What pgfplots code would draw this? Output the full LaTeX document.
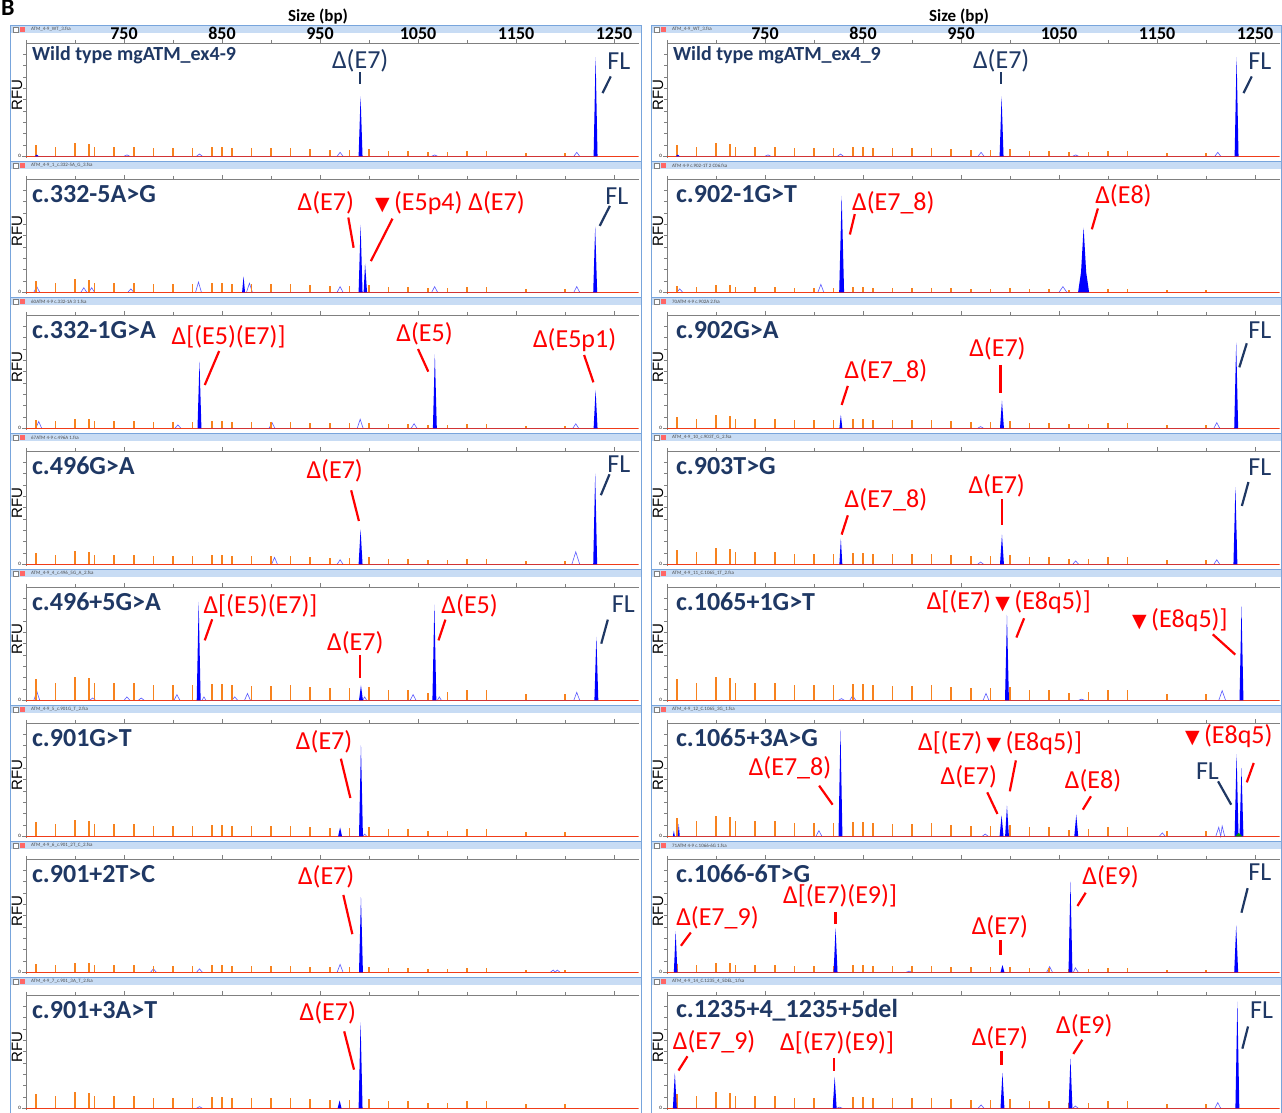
\documentclass[border=0pt]{standalone}
\usepackage{fontspec}
\setmainfont{Carlito}
\newfontfamily\dejavu{DejaVu Sans}
\newfontfamily\arial{Liberation Sans}
\usepackage{pgfplots}
\pgfplotsset{compat=1.18}
\usepackage{pgfplotstable}
\definecolor{navy}{RGB}{31,56,100}
\definecolor{lorange}{RGB}{247,130,30}
\definecolor{hdr}{RGB}{200,220,244}
\definecolor{frm}{RGB}{120,165,220}
\definecolor{basec}{RGB}{240,60,25}
\definecolor{olb}{RGB}{90,90,255}

\newcommand\ann{\fontsize{26}{28}\selectfont}
\newcommand\lab{\fontsize{26}{28}\selectfont\bfseries}
\newcommand\tri{{\dejavu\fontsize{19}{19}\selectfont ▼}}

\pgfplotstableread{
x a b c d e f
660 5.7 7.7 10.3 12.9 18.5 16.0
680 4.7 6.5 8.6 10.8 15.5 13.3
700 6.3 8.6 11.5 14.4 20.7 17.8
714 6.0 8.2 10.9 13.6 19.6 16.9
720 4.7 6.5 8.6 10.8 15.5 13.3
740 4.7 6.5 8.6 10.8 15.5 13.3
760 4.7 6.5 8.6 10.8 15.5 13.3
780 4.1 5.6 7.4 9.3 13.3 11.5
800 4.1 5.6 7.4 9.3 13.3 11.5
820 4.1 5.6 7.4 9.3 13.3 11.5
840 4.4 6.0 8.0 10.0 14.4 12.4
850 4.4 6.0 8.0 10.0 14.4 12.4
860 4.1 5.6 7.4 9.3 13.3 11.5
880 3.9 5.3 7.0 8.8 12.6 10.9
900 3.9 5.3 7.0 8.8 12.6 10.9
920 4.1 5.6 7.4 9.3 13.3 11.5
940 3.6 4.9 6.5 8.1 11.7 10.1
960 3.2 4.4 5.9 7.4 10.6 9.1
980 3.2 4.4 5.9 7.4 10.6 9.1
1000 3.6 4.9 6.5 8.1 11.7 10.1
1020 2.8 3.8 5.0 6.3 9.0 7.8
1040 2.8 3.8 5.0 6.3 9.0 7.8
1060 1.9 2.6 3.5 4.4 6.3 5.4
1080 2.2 3.0 4.0 5.0 7.2 6.2
1100 2.8 3.8 5.0 6.3 9.0 7.8
1120 2.8 3.8 5.0 6.3 9.0 7.8
1160 1.8 2.4 3.2 4.0 5.8 5.0
1200 1.8 2.4 3.2 4.0 5.8 5.0
}\ladder

\tikzset{
  rann/.style={red, font=\ann, inner sep=0pt},
  flab/.style={navy, font=\ann, inner sep=0pt},
  rln/.style={red, line width=2.2pt},
  nln/.style={navy, line width=2.2pt},
  olpk/.style={draw=olb, line width=0.6pt},
  fpk/.style={draw=none, fill=blue},
}

\pgfplotsset{
  panel/.style={
    scale only axis, width=612.5pt, height=115pt,
    xmin=650, xmax=1275, ymin=-1.5, ymax=100,
    axis x line*=top, axis y line*=left,
    axis line style={gray, line width=0.6pt},
    clip mode=individual,
    xtick={750,850,...,1250},
    minor xtick={650,700,800,900,1000,1100,1200},
    xticklabels={},
    ytick={0}, minor ytick={10,20,...,90},
    tick style={gray, line width=0.5pt},
    major tick length=4pt, minor tick length=3pt,
    tick align=outside,
    yticklabel style={font=\fontsize{5}{5}\selectfont, inner sep=1pt},
    /pgf/number format/assume math mode=true,
    /pgf/number format/1000 sep={},
  },
  toprow/.style={
    xticklabels={750,850,950,1050,1150,1250},
    xticklabel style={font=\fontsize{18}{18}\selectfont\bfseries, yshift=-4pt},
  },
}

% #1 x, #2 y, #3 options, #4 ladder column, #5 outline peaks, #6 filled peaks, #7 annotations
\newcommand\panel[7]{%
\begin{axis}[panel, at={(#1pt,#2pt)}, #3]
\addplot[olpk, unbounded coords=jump] coordinates {#5};
\addplot[basec, line width=0.9pt] coordinates {(650,0) (1275,0)};
\addplot[ycomb, draw=lorange, line width=1.6pt] table[x=x, y=#4] {\ladder};
\addplot[fpk] coordinates {#6};
#7
\end{axis}}

\newcommand\hdrtext[3]{\node[anchor=west, inner sep=0pt, font=\fontsize{5}{5}\selectfont, text=black!70] at (#1,#2) {#3};}

\begin{document}
\begin{tikzpicture}[x=1pt,y=1pt]
\useasboundingbox (0,0) rectangle (1282,1113);
\fill[white] (0,0) rectangle (1282,1113);
\foreach \t in {1087,951,815,679,543,407,271,135} {
  \fill[hdr] (10,\t-7) rectangle (641,\t);
  \fill[hdr] (651,\t-7) rectangle (1281,\t);
  \draw[frm, line width=1pt] (10,\t-136) rectangle (641,\t);
  \draw[frm, line width=1pt] (651,\t-136) rectangle (1281,\t);
  \draw[gray, line width=0.4pt, fill=white] (13,\t-6) rectangle (18,\t-1.5);
  \fill[red!60] (20,\t-6) rectangle (25,\t-1.5);
  \draw[gray, line width=0.4pt, fill=white] (654,\t-6) rectangle (659,\t-1.5);
  \fill[red!60] (661,\t-6) rectangle (666,\t-1.5);
  \node[rotate=90, font=\arial\fontsize{15}{15}\selectfont] at (17,\t-69) {RFU};
  \node[rotate=90, font=\arial\fontsize{15}{15}\selectfont] at (658,\t-69) {RFU};
}
\hdrtext{31}{1083.5}{ATM\_4-9\_WT\_3.fsa}
\hdrtext{672}{1083.5}{ATM\_4-9\_WT\_3.fsa}
\hdrtext{31}{947.5}{ATM\_4-9\_1\_c.332-5A\_G\_3.fsa}
\hdrtext{672}{947.5}{ATM 4-9 c.902-1T 2 C06.fsa}
\hdrtext{31}{811.5}{60ATM 4-9 c.332-1A 3 1.fsa}
\hdrtext{672}{811.5}{70ATM 4-9 c.902A 2.fsa}
\hdrtext{31}{675.5}{67ATM 4-9 c.496A 1.fsa}
\hdrtext{672}{675.5}{ATM\_4-9\_10\_c.903T\_G\_2.fsa}
\hdrtext{31}{539.5}{ATM\_4-9\_4\_c.496\_5G\_A\_2.fsa}
\hdrtext{672}{539.5}{ATM\_4-9\_11\_C.1065\_1T\_2.fsa}
\hdrtext{31}{403.5}{ATM\_4-9\_5\_c.901G\_T\_2.fsa}
\hdrtext{672}{403.5}{ATM\_4-9\_12\_C.1065\_3G\_1.fsa}
\hdrtext{31}{267.5}{ATM\_4-9\_6\_c.901\_2T\_C\_2.fsa}
\hdrtext{672}{267.5}{71ATM 4-9 c.1066-6G 1.fsa}
\hdrtext{31}{131.5}{ATM\_4-9\_7\_c.901\_3A\_T\_2.fsa}
\hdrtext{672}{131.5}{ATM\_4-9\_14\_C.1235\_4\_5DEL\_1.fsa}

\node[font=\fontsize{17}{17}\selectfont\bfseries] at (318,1096) {Size (bp)};
\node[font=\fontsize{17}{17}\selectfont\bfseries] at (959,1096) {Size (bp)};
\node[anchor=base west, inner sep=0pt, font=\fontsize{24}{24}\selectfont\bfseries] at (1,1097) {B};

% ---------- Row 1 ----------
\panel{26}{955}{toprow}{c}
{(750,0)(753,1.2)(756,0) (0,nan) (824,0)(827,2)(830,0) (0,nan) (967.5,0)(970.5,3.5)(973.5,0) (0,nan) (1064,0)(1067,1.2)(1070,0) (0,nan) (1209,0)(1212,3.5)(1215,0)}
{(659,0)(661,1.5)(663,0) (989.4,0)(991.4,52.8)(993.4,0) (1229.2,0)(1231.2,87.6)(1233.2,0)}
{\node[anchor=west, navy, font=\fontsize{20}{22}\selectfont\bfseries, inner sep=0pt] at (axis cs:656,89.4) {Wild type mgATM\_ex4-9};
 \node[flab] at (axis cs:991,84) {Δ(E7)};
 \draw[nln] (axis cs:991,74) -- (axis cs:991,64);
 \node[flab] at (axis cs:1255,84) {FL};
 \draw[nln] (axis cs:1238.3,55.8) -- (axis cs:1246.7,70.5);}

\panel{667}{955}{toprow}{c}
{(750,0)(753,1.2)(756,0) (0,nan) (824,0)(827,2)(830,0) (0,nan) (967.5,0)(970.5,3.5)(973.5,0) (0,nan) (1064,0)(1067,1.2)(1070,0) (0,nan) (1209,0)(1212,3.5)(1215,0)}
{(659,0)(661,1.5)(663,0) (989.4,0)(991.4,52.8)(993.4,0) (1229.2,0)(1231.2,87.6)(1233.2,0)}
{\node[anchor=west, navy, font=\fontsize{20}{22}\selectfont\bfseries, inner sep=0pt] at (axis cs:656,89.4) {Wild type mgATM\_ex4\_9};
 \node[flab] at (axis cs:991,84) {Δ(E7)};
 \draw[nln] (axis cs:991,74) -- (axis cs:991,64);
 \node[flab] at (axis cs:1255,84) {FL};
 \draw[nln] (axis cs:1238.3,55.8) -- (axis cs:1246.7,70.5);}

% ---------- Row 2 ----------
\panel{26}{819}{}{c}
{(658,0)(661,5)(664,0) (0,nan) (706,0)(709,4)(712,0) (0,nan) (714,0)(717,4)(720,0) (0,nan) (754,0)(757,3)(760,0) (0,nan) (823,0)(826,9)(829,0) (0,nan) (875,0)(878,8)(881,0) (0,nan) (967.5,0)(970.5,5)(973.5,0) (0,nan) (1064,0)(1067,5)(1070,0) (0,nan) (1209,0)(1212,5)(1215,0)}
{(870.5,0)(872,14)(873.5,0) (989.4,0)(991.4,59.5)(993.4,0) (994.5,0)(996,25.4)(998,0) (1228.8,0)(1230.8,58)(1232.8,0)}
{\node[anchor=west, navy, font=\lab, inner sep=0pt] at (axis cs:656,86.8) {c.332-5A>G};
 \node[rann] at (axis cs:955.9,79) {Δ(E7)};
 \draw[rln] (axis cs:978.9,66) -- (axis cs:984.3,39.3);
 \node[rann, anchor=west] at (axis cs:1006,79) {\tri\,(E5p4) Δ(E7)};
 \draw[rln] (axis cs:1024,65) -- (axis cs:1001.9,27.5);
 \node[flab] at (axis cs:1252.9,85) {FL};
 \draw[nln] (axis cs:1235.4,58.6) -- (axis cs:1245.8,76.3);}

\panel{667}{819}{}{a}
{(660,0)(663,3)(666,0) (0,nan) (804,0)(807,7)(810,0) (0,nan) (1050,0)(1054,5)(1058,0)}
{(825.7,0)(828.2,85.2)(830.7,0) (1069.5,0)(1072.5,18)(1075.1,57.1)(1077.7,18)(1080.7,0)}
{\node[anchor=west, navy, font=\lab, inner sep=0pt] at (axis cs:659,86.8) {c.902-1G>T};
 \node[rann, anchor=west] at (axis cs:838.7,79) {Δ(E7\_8)};
 \draw[rln] (axis cs:836.6,51) -- (axis cs:841.6,69);
 \node[rann, anchor=west] at (axis cs:1086.8,85) {Δ(E8)};
 \draw[rln] (axis cs:1083.5,55.6) -- (axis cs:1089.7,74);}

% ---------- Row 3 ----------
\panel{26}{683}{}{b}
{(660,0)(663,6)(666,0) (0,nan) (802,0)(805,3)(808,0) (0,nan) (898,0)(901,5)(904,0) (0,nan) (988,0)(991,8)(994,0) (0,nan) (1043,0)(1046,4)(1049,0) (0,nan) (1208,0)(1211,4)(1214,0)}
{(825,0)(827,58.8)(829,0) (1065.2,0)(1067.2,65.3)(1069.2,0) (1229.2,0)(1231.2,33.8)(1233.2,0)}
{\node[anchor=west, navy, font=\lab, inner sep=0pt] at (axis cs:656,86.8) {c.332-1G>A};
 \node[rann] at (axis cs:856.7,80.9) {Δ[(E5)(E7)]};
 \draw[rln] (axis cs:832.4,38.2) -- (axis cs:847.1,68.2);
 \node[rann] at (axis cs:1056.7,83.8) {Δ(E5)};
 \draw[rln] (axis cs:1050,70) -- (axis cs:1060.5,50);
 \node[rann] at (axis cs:1209.8,78) {Δ(E5p1)};
 \draw[rln] (axis cs:1219.5,64.7) -- (axis cs:1229,40.6);}

\panel{667}{683}{}{c}
{(967,0)(970,1.5)(973,0) (0,nan) (1208,0)(1211,5)(1214,0)}
{(825.9,0)(827.4,11.8)(828.9,0) (989.8,0)(991.8,24.4)(993.8,0) (1228.8,0)(1230.8,75.6)(1232.8,0)}
{\node[anchor=west, navy, font=\lab, inner sep=0pt] at (axis cs:659,86.8) {c.902G>A};
 \node[rann] at (axis cs:873.4,51) {Δ(E7\_8)};
 \draw[rln] (axis cs:828.2,20.6) -- (axis cs:834.5,37.4);
 \node[rann] at (axis cs:987.2,70.6) {Δ(E7)};
 \draw[rln] (axis cs:990.2,55.9) -- (axis cs:990.2,31.5);
 \node[flab] at (axis cs:1255,86.8) {FL};
 \draw[nln] (axis cs:1234,53.8) -- (axis cs:1241.6,75);}

% ---------- Row 4 ----------
\panel{26}{547}{}{c}
{(900.6,0)(903.6,6)(906.6,0) (0,nan) (967.5,0)(970.5,4)(973.5,0) (0,nan) (1207,0)(1211,11)(1215,0)}
{(989.4,0)(991.4,30.9)(993.4,0) (1228.8,0)(1230.8,80)(1232.8,0)}
{\node[anchor=west, navy, font=\lab, inner sep=0pt] at (axis cs:656,86.8) {c.496G>A};
 \node[rann] at (axis cs:965,82.4) {Δ(E7)};
 \draw[rln] (axis cs:981.8,65.3) -- (axis cs:989.7,38.2);
 \node[flab] at (axis cs:1255,88) {FL};
 \draw[nln] (axis cs:1236.6,61) -- (axis cs:1245.4,79.4);}

\panel{667}{547}{}{d}
{(967,0)(970,2)(973,0) (0,nan) (1064,0)(1067,3)(1070,0) (0,nan) (1208,0)(1211,4)(1214,0)}
{(825.9,0)(827.4,22.6)(828.9,0) (989.8,0)(991.8,26.2)(993.8,0) (1228,0)(1230,68.2)(1232,0)}
{\node[anchor=west, navy, font=\lab, inner sep=0pt] at (axis cs:659,86.8) {c.903T>G};
 \node[rann] at (axis cs:873.4,56.5) {Δ(E7\_8)};
 \draw[rln] (axis cs:828.2,26.2) -- (axis cs:834.5,43.2);
 \node[rann] at (axis cs:986.4,69.7) {Δ(E7)};
 \draw[rln] (axis cs:991.8,57.4) -- (axis cs:991.8,35);
 \node[flab] at (axis cs:1255,85.9) {FL};
 \draw[nln] (axis cs:1236.6,51.5) -- (axis cs:1243.3,72.6);}

% ---------- Row 5 ----------
\panel{26}{411}{}{e}
{(658,0)(661,8)(664,0) (0,nan) (715,0)(718,2)(721,0) (0,nan) (750,0)(753,3)(756,0) (0,nan) (764.6,0)(767.6,2)(770.6,0) (0,nan) (801,0)(804,5)(807,0) (0,nan) (829.6,0)(831.6,3)(833.6,0) (0,nan) (860,0)(863,3)(866,0) (0,nan) (873,0)(876,6)(879,0) (0,nan) (993.6,0)(995.6,3)(997.6,0) (0,nan) (1042,0)(1045,5)(1048,0) (0,nan) (1069.8,0)(1071.8,3)(1073.8,0) (0,nan) (1209,0)(1212,7)(1215,0)}
{(824.2,0)(826.2,86.8)(828.2,0) (989.8,0)(991.8,13.2)(993.8,0) (1064.7,0)(1066.7,84.4)(1068.7,0) (1230,0)(1232,55.9)(1234,0)}
{\node[anchor=west, navy, font=\lab, inner sep=0pt] at (axis cs:656,86.8) {c.496+5G>A};
 \node[rann] at (axis cs:889.3,83.8) {Δ[(E5)(E7)]};
 \draw[rln] (axis cs:832.4,52.9) -- (axis cs:840,71.5);
 \node[rann] at (axis cs:1102.7,83.8) {Δ(E5)};
 \draw[rln] (axis cs:1070.9,52.9) -- (axis cs:1078,71.2);
 \node[rann] at (axis cs:986,50.9) {Δ(E7)};
 \draw[rln] (axis cs:990.6,39.7) -- (axis cs:990.6,19.7);
 \node[flab] at (axis cs:1259.6,84.7) {FL};
 \draw[nln] (axis cs:1237,50) -- (axis cs:1243.7,71.2);}

\panel{667}{411}{}{e}
{(825,0)(828,1.5)(831,0) (0,nan) (836.5,0)(839.5,4)(842.5,0) (0,nan) (972.5,0)(975.5,6)(978.5,0) (0,nan) (1070,0)(1073,1)(1076,0) (0,nan) (1213,0)(1216.5,8.5)(1220,0)}
{(994.9,0)(996.9,75.3)(998.9,0) (1234.2,0)(1236.2,83)(1238.2,0)}
{\node[anchor=west, navy, font=\lab, inner sep=0pt] at (axis cs:659,86.8) {c.1065+1G>T};
 \node[rann, anchor=west] at (axis cs:914.9,86.6) {Δ[(E7)\,\tri\,(E8q5)]};
 \draw[rln] (axis cs:1014.4,72.4) -- (axis cs:1006.5,55.4);
 \node[rann, anchor=west] at (axis cs:1124.5,71) {\tri\,(E8q5)]};
 \draw[rln] (axis cs:1206.9,58.2) -- (axis cs:1229.9,40.3);}

% ---------- Row 6 ----------
\panel{26}{275}{}{d}
{(993.6,0)(995.6,2)(997.6,0)}
{(968.5,0)(970.5,7.9)(972.5,0) (989.8,0)(991.8,80.3)(993.8,0)}
{\node[anchor=west, navy, font=\lab, inner sep=0pt] at (axis cs:656,86.8) {c.901G>T};
 \node[rann] at (axis cs:954.2,83.8) {Δ(E7)};
 \draw[rln] (axis cs:971.3,68.5) -- (axis cs:981,33.8);}

\panel{667}{275}{}{f}
{(802,0)(805,5)(808,0) (0,nan) (971.7,0)(974.7,2)(977.7,0) (0,nan) (1152.4,0)(1155.4,3)(1158.4,0) (0,nan) (1210,0)(1213,8)(1215,0)(1216.5,9)(1219,0)}
{(656,0)(657,5)(658,0) (661,0)(662,11)(663,0) (825,0)(827,94.1)(829,0) (989.4,0)(991.4,18.5)(993.4,0) (995,0)(996.9,27)(998.9,0) (1065.6,0)(1067.6,19.1)(1069.6,0) (1229.2,0)(1231.2,72.6)(1233.2,0) (1234.2,0)(1236.2,60.3)(1238.2,0)}
{\addplot[fill=green!60!black, draw=none] coordinates {(1230,0)(1233.5,3)(1237,0)};
 \node[anchor=west, navy, font=\lab, inner sep=0pt] at (axis cs:659,86.8) {c.1065+3A>G};
 \node[rann] at (axis cs:775.5,60.9) {Δ(E7\_8)};
 \draw[rln] (axis cs:805.2,44.7) -- (axis cs:819,27.9);
 \node[rann, anchor=west] at (axis cs:906,82.4) {Δ[(E7)\,\tri\,(E8q5)]};
 \draw[rln] (axis cs:1006,67) -- (axis cs:999.8,39.7);
 \node[rann] at (axis cs:958,52.9) {Δ(E7)};
 \draw[rln] (axis cs:976.8,38.8) -- (axis cs:987.2,19.7);
 \node[rann] at (axis cs:1084.7,48.8) {Δ(E8)};
 \draw[rln] (axis cs:1082.6,35.3) -- (axis cs:1074.3,23.5);
 \node[rann, anchor=west] at (axis cs:1178.5,88.2) {\tri\,(E8q5)};
 \draw[rln] (axis cs:1248.7,64.7) -- (axis cs:1241.6,47.6);
 \node[flab] at (axis cs:1201.5,57.4) {FL};
 \draw[nln] (axis cs:1212.3,48.5) -- (axis cs:1225.7,27.9);}

% ---------- Row 7 ----------
\panel{26}{139}{}{b}
{(777,0)(780,3)(783,0) (0,nan) (824,0)(827,3)(830,0) (0,nan) (967.5,0)(970.5,7)(973.5,0) (0,nan) (1185,0)(1188,2)(1190,0)(1192,2)(1195,0)}
{(989.8,0)(991.8,66.3)(993.8,0)}
{\node[anchor=west, navy, font=\lab, inner sep=0pt] at (axis cs:656,86.8) {c.901+2T>C};
 \node[rann] at (axis cs:956.3,84.6) {Δ(E7)};
 \draw[rln] (axis cs:973.8,68.3) -- (axis cs:983,33.7);}

\panel{667}{139}{}{b}
{(894,0)(897,1)(900,0) (0,nan) (1037.4,0)(1040.4,5)(1043.4,0) (0,nan) (1064.7,0)(1066.7,4)(1069.7,0)}
{(657,0)(658.8,36.3)(660.6,0) (820,0)(822,39.2)(824,0) (990.3,0)(992.3,6.4)(994.3,0) (1059.7,0)(1061.7,80.1)(1063.7,0) (1228.8,0)(1230.8,41.5)(1232.8,0)}
{\node[anchor=west, navy, font=\lab, inner sep=0pt] at (axis cs:659,86.8) {c.1066-6T>G};
 \node[rann] at (axis cs:701.5,48) {Δ(E7\_9)};
 \draw[rln] (axis cs:664.2,23.4) -- (axis cs:674.3,35.1);
 \node[rann] at (axis cs:826.6,67.8) {Δ[(E7)(E9)]};
 \draw[rln] (axis cs:822,53.2) -- (axis cs:822,43);
 \node[rann] at (axis cs:989.7,40) {Δ(E7)};
 \draw[rln] (axis cs:990.2,28.4) -- (axis cs:990.2,15.2);
 \node[rann] at (axis cs:1102.7,83.9) {Δ(E9)};
 \draw[rln] (axis cs:1068.8,58.5) -- (axis cs:1077.2,70.2);
 \node[flab] at (axis cs:1255,88.3) {FL};
 \draw[nln] (axis cs:1236.2,52.6) -- (axis cs:1242.5,74.3);}

% ---------- Row 8 ----------
\panel{26}{3}{}{d}
{(824,0)(827,1.5)(830,0)}
{(968,0)(970,7)(972,0) (989.4,0)(991.4,75.9)(993.4,0)}
{\node[anchor=west, navy, font=\lab, inner sep=0pt] at (axis cs:656,86.8) {c.901+3A>T};
 \node[rann] at (axis cs:958,84.7) {Δ(E7)};
 \draw[rln] (axis cs:974.7,67.9) -- (axis cs:984.7,34.1);}

\panel{667}{3}{}{d}
{(823,0)(826,1)(829,0) (0,nan) (967.5,0)(970.5,3)(973.5,0) (0,nan) (1064,0)(1066.7,2)(1069.7,0) (0,nan) (1209,0)(1212,5)(1215,0)}
{(656,0)(658,31.3)(660,0) (819.1,0)(821.1,27.8)(823.1,0) (990.3,0)(992.3,31.3)(994.3,0) (1059.7,0)(1061.7,43.9)(1063.7,0) (1230,0)(1232,94.2)(1234,0)}
{\node[anchor=west, navy, font=\lab, inner sep=0pt] at (axis cs:659,86.8) {c.1235+4\_1235+5del};
 \node[rann] at (axis cs:698.1,59) {Δ(E7\_9)};
 \draw[rln] (axis cs:661.7,33.3) -- (axis cs:670.9,45.9);
 \node[rann] at (axis cs:823.6,57.6) {Δ[(E7)(E9)]};
 \draw[rln] (axis cs:820.7,44.4) -- (axis cs:820.7,32.7);
 \node[rann] at (axis cs:989.7,62) {Δ(E7)};
 \draw[rln] (axis cs:991.4,50.3) -- (axis cs:991.4,38.6);
 \node[rann] at (axis cs:1075.9,73.1) {Δ(E9)};
 \draw[rln] (axis cs:1064.6,48) -- (axis cs:1073.8,60.5);
 \node[flab] at (axis cs:1256.7,86.8) {FL};
 \draw[nln] (axis cs:1237.1,52.6) -- (axis cs:1242.9,72.2);}

\end{tikzpicture}
\end{document}
